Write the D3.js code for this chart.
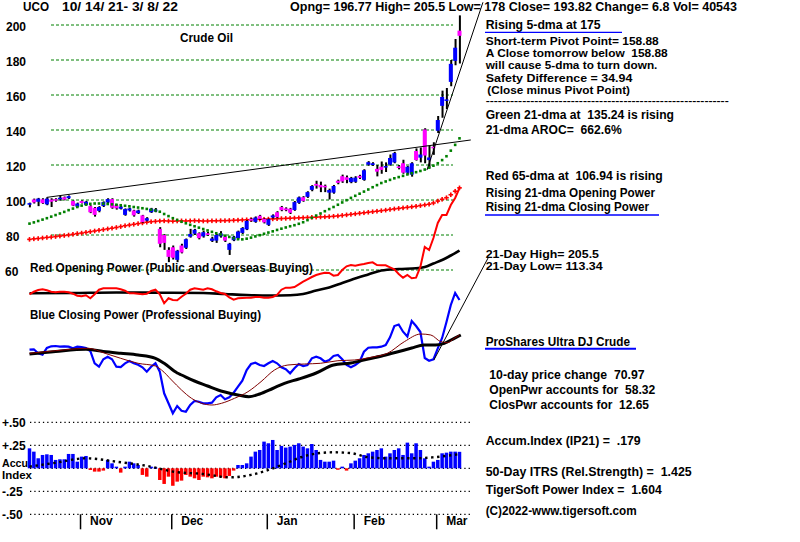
<!DOCTYPE html>
<html><head><meta charset="utf-8">
<script src="https://cdn.jsdelivr.net/npm/d3@7"></script>
<style>
body{margin:0;background:#fff;}
svg{display:block;background:#fff;}
text{font-family:"Liberation Sans",Arial,sans-serif;font-weight:bold;font-size:12px;fill:#000;white-space:pre;}
</style></head><body>
<svg id="c" width="800" height="542"></svg>
<script>
// ---------------- DATA ----------------
const monthLabels = ["Nov","Dec","Jan","Feb","Mar"];
const monthStartIdx = [12,33,55,75,94];
const priceTicks = [60,80,100,120,140,160,180,200];
const accTicks = [0.5,0.25,-0.25,-0.5];
const accTickLabels = ["+.50","+.25","-.25","-.50"];

const opens = [
 97.3,100.3,99,100.4,97.5,100.2,100.5,100.5,101.6,101,
 99.4,96.2,99.4,97.2,96.5,95.5,93.8,96.6,98.6,100.5,
 97,95,91.5,94,94,92.5,91.2,88.2,93,93.5,
 83.5,80,71.5,73,65.8,74,72.7,79,80.7,81,
 79.2,81,76.7,76.8,79.2,79,71.5,77,78.2,81.2,
 83.2,89.2,87.5,91,89.2,85.8,90,93,96,95.2,
 95,94.3,98.4,101.6,101.8,105.8,109.2,108.6,108.1,104.2,
 104.2,111,113.6,113,110.2,110.4,113.8,111.5,120.2,120,
 117.8,119,118.8,120.2,121.5,119.2,121,115.6,114.5,128,
 124.2,140.3,122.8,130.4,139.6,153.8,156.6,167.5,179.5,196.77];
const closes = [
 98.2,98.6,100.8,98.2,100.8,99,99.6,101.3,100.2,102.2,
 96.8,98,98.3,99,93,91.5,96,98.8,100.5,95.6,
 95.2,96.2,94.8,95.2,91.2,94,87.4,89.6,95,94.6,
 75,75.5,67.5,67,71,70,77.6,80.6,83,78.2,
 81.6,80,78,80,81,76.8,75,79,82,84,
 88,88.2,90,89.2,87.2,89,91.2,90.2,94.2,94.2,
 92.7,98.8,101.5,99.5,104.5,108,108.2,107.2,107.4,105.7,
 108,109.8,110.6,111.5,112.6,112.8,112.7,117,121.6,121,
 116.2,117.2,119.4,124,126.8,118.3,115.6,119,121,122.85,
 126,125.4,124.3,129.6,145.7,158.88,157.5,177.8,187.02,193.82];
const highs = [
 98.5,100.8,101.2,101,101.5,101,101,102.3,102,102.6,
 99.8,98.5,99.8,99.5,97,96,96.5,99.2,101,101,
 97.6,96.8,95.2,95.6,94.4,94.5,91.5,90.2,95.5,95.4,
 84.5,80.5,73,74,71.5,75,78,83.5,83.5,81.5,
 82.5,81.8,79,80.6,82.2,79.6,75.5,79.5,82.5,84.5,
 88.5,89.8,90.6,91.5,89.6,89.4,91.8,93.6,96.6,95.8,
 95.5,99.4,102,102.2,105,108.5,111,110.5,108.8,106.5,
 108.6,111.6,114.5,114,113.2,113.6,114.4,117.6,122.2,121.6,
 120,122,121.5,126,127.5,120,123,119.5,121.6,129.5,
 130,141,131,133,148,162.5,164,180,192,205.5];
const lows = [
 95.8,98,96.5,97.8,97,96,99,99.6,99.8,100.6,
 96.5,95.8,98,96.8,92.5,90.5,93,96,98,95,
 94.5,94.6,91,93.4,90.5,92,87,87.8,92.6,93,
 73,71.5,64.5,66,64.5,69.5,72,78.5,80,77.5,
 78.5,79.5,76,75.5,78.5,76,68.6,76.5,77.5,80.6,
 82.8,87.6,87,88.6,86.6,85.2,89.4,89.6,93.6,93.6,
 92,93.8,97.8,99,101.2,105,106.5,104.5,104.5,100.3,
 103.6,109,109.8,109.6,109.6,109.8,112,111,119.6,119.5,
 113.5,115,116,119.6,121,117.5,115,114.5,113.34,122.5,
 121.5,121,118,125.8,138.3,147,152,165,177,178];

const ma21 = [
 86.5,87.2,88,88.8,89.6,90.5,91.4,92.3,93.2,94.2,
 95.1,96,96.8,97.4,97.8,98,98,97.9,97.7,97.5,
 97.3,97,96.7,96.4,96,95.7,95.3,94.9,94.4,94,
 93.3,92,90.8,89.6,88.6,87.6,86.7,85.8,85,84.2,
 83.4,82.6,81.8,81,80.3,79.6,78.9,78.2,77.6,77.5,
 77.9,78.5,79.2,79.9,80.7,81.4,82.1,82.9,83.6,84.3,
 85,85.6,86.4,87.3,88.5,89.8,91.1,92.3,93.6,94.8,
 96,97.3,98.6,99.9,101.2,102.4,103.6,104.8,106,107.3,
 108.5,109.7,110.6,111.5,112.4,113.1,113.8,114.6,115.3,115.9,
 116.6,117.4,118.5,119.6,121,122.8,125,128.2,131.5,135.24];
const ma65 = [
 77.5,77.8,78,78.3,78.6,78.8,79.1,79.4,79.7,80,
 80.4,80.8,81.1,81.5,81.9,82.3,82.7,83.1,83.5,83.9,
 84.3,84.8,85.3,85.7,86.1,86.5,86.9,87.3,87.6,87.8,
 88,88.1,88,87.9,88,88.1,88,88.1,88.2,88.1,
 88,88,88.1,88.1,88.2,88.2,88.3,88.4,88.5,88.6,
 88.7,88.8,88.9,89,89,89.1,89.2,89.3,89.4,89.5,
 89.6,89.7,89.8,89.9,90,90.1,90.2,90.3,90.4,90.5,
 90.7,90.9,91.2,91.5,91.8,92.1,92.4,92.7,93,93.3,
 93.6,93.9,94.2,94.6,94.9,95.2,95.5,95.8,96.1,96.4,
 96.8,97.2,97.6,98.3,99.4,100.4,101.3,103,105,106.94];

const openingPower = [
 -1.3,1.3,3,3.7,2.7,1.3,0.7,1.3,1.3,0.7,
 -0.7,-2.7,-3.3,-2.3,-5.3,-1.3,3.3,4.7,4.7,4.7,
 4.7,3.7,2.3,-0.3,-0.3,-0.7,-1.3,-0.7,2,3.3,
 -1.3,-10.3,-5.3,-7,-7.3,-3.7,-0.7,3.3,4.7,4,
 3.3,4.7,3.7,1.7,0,-1,-4.3,-6.7,-5.3,-5,
 -4.7,-4.7,-4,-4,-4.7,-4.7,-4,-2,3.3,5.3,
 5.3,6,8.7,11.3,13.7,16,18,19.3,20.3,20,
 17.3,18,23,26.7,28,27.3,28.3,29,30,30.7,
 28,27.7,27.7,25.7,23.7,19,15.3,18,14.7,15.3,
 26.3,46,43,55,70,78,78,88,95,105];
const openingPowerMA = [[0,-0.3],[10,0],[20,0.5],[30,0.3],[40,0],[45,-1],[50,-2],[55,-2.5],[60,-2.2],[63,-1],[66,2.5],[69,5.5],[72,10],[74,13],[78,18.5],[81,22.5],[85,24],[89,24.7],[91,26],[93,29.5],[95,33],[97,37.5],[99,42.5]];

const closingPower = [
 50.3,50.7,46.7,45.3,52,53.7,54,53.3,53.7,53.3,
 51.7,53.3,53,52,49,36.7,33.3,40.7,43.3,40.7,
 33.3,33,36.7,39,36.7,35.3,32.7,28.3,33.3,36.7,
 28.3,6.7,-3.3,-13.3,-6,-10.7,-11.7,-5,-1,-1.7,
 -3.3,-3.3,-2.7,2.7,5,0.7,2.7,7.3,13.3,19.3,
 30,36,37.3,35,34,36.7,39,36.7,32.7,30.7,
 26.7,31.7,36,34,35,41.7,43.3,41.7,38.3,40,
 44,45,40.7,35,32.7,35,38.3,48.3,52.3,52.7,
 52.7,53.3,55,62.7,74,75.5,68.3,63.5,79,74,
 68,42,39.3,40.7,51.7,62,78,95,107,100];
const closingPowerMA21 = [[0,46.7],[6,49.3],[13.5,51.7],[17.4,46.7],[21,41.7],[25,36.7],[29,34],[30.4,30],[32.7,20],[35,10],[37.3,1.7],[39.6,-3.3],[42,-5],[44.2,-3.3],[47.2,1.7],[50.3,8.3],[53.3,18.3],[56.4,30],[59.5,35],[63.3,36],[67,36.7],[71,39.3],[74.8,40],[78.6,42.7],[82.4,46.7],[86.3,58.3],[90.1,66],[92.4,65],[94.7,58.3],[96.2,57.3],[97.8,61.7],[99,65]];
const closingPowerMA65 = [[0,46],[6,48.5],[13,50.7],[17,48.5],[21,46.7],[25,45],[29,41.7],[31,36.7],[34,27],[35,25],[38,19],[41,14],[43.4,10],[45,8],[48,5],[50.5,3.3],[53,6],[56,11.5],[58.7,16.7],[62,21],[66,27],[70,35],[74,37],[78,41],[82,45],[85.5,49],[88,52],[90.8,55],[93.5,55],[95.5,56.7],[97.8,61.7],[99.3,65]];

const accumIndex = [
 .217,.181,.109,.145,.152,.145,.091,.098,.098,.156,
 .156,.072,.127,.134,-.018,-.036,-.036,-.025,.091,.054,
 .018,-.047,.018,.072,.054,.036,-.072,-.091,.018,.011,
 -.127,-.17,-.091,-.19,-.145,-.134,-.072,-.091,-.109,-.127,
 -.091,-.098,-.109,-.091,-.098,-.109,-.083,-.025,.036,.036,
 .054,.127,.181,.199,.29,.272,.308,.199,.243,.225,
 .236,.254,.272,.236,.217,.264,.199,.091,.072,.072,
 .083,-.011,.018,-.025,.054,.083,.109,.145,.163,.181,
 .199,.217,.127,.163,.199,.217,.145,.279,.163,.272,
 .199,.109,.018,.072,.091,.163,.17,.181,.181,.179];
const accumMA = [[0,.018],[6,.06],[13,.109],[20,.072],[28,.018],[33,-.036],[40,-.062],[46,-.098],[51,-.072],[55,-.018],[59,.054],[62.5,.12],[66.4,.163],[70,.174],[74,.165],[78,.12],[82,.109],[89,.109],[93,.12],[99.3,.156]];

const priceTrendLines = [[[3.96,101.5],[101.6,134.3]], [[91.5,117.1],[104.4,213]]];
const cpTrendLines = [[[93.1,40],[105.7,143]]];

// ---------------- LAYOUT ----------------
const svg = d3.select("#c");
const x = d3.scaleLinear().domain([0,99]).range([29.5,459.5]);
const yP = d3.scaleLinear().domain([60,200]).range([270,25]);
const yOP = d3.scaleLinear().domain([0,100]).range([293,193]);
const yCP = d3.scaleLinear().domain([0,100]).range([400,300]);
const yA = d3.scaleLinear().domain([-0.5,0.5]).range([514.3,422.3]);
const idx = d3.range(closes.length);

// price grid
svg.append("g").selectAll("line").data(priceTicks).join("line")
  .attr("x1",51).attr("x2",453).attr("y1",d=>yP(d)).attr("y2",d=>yP(d))
  .attr("stroke","#008000").attr("stroke-width",1).attr("stroke-dasharray","3,2");

// price axis labels
const pAx = svg.append("g").attr("transform","translate(6,0)")
  .call(d3.axisLeft(yP).tickValues(priceTicks).tickSize(0).tickPadding(0));
pAx.select(".domain").remove();
pAx.selectAll("text").attr("text-anchor","start").attr("x",d=>d===60?-1:0).attr("dy","0.42em");

// accumulation grid
svg.append("g").selectAll("line").data([0.5,0.25,0,-0.25,-0.5]).join("line")
  .attr("x1",30).attr("x2",472).attr("y1",d=>yA(d)).attr("y2",d=>yA(d))
  .attr("stroke","#000").attr("stroke-width",1.2).attr("stroke-dasharray","1.3,3");
const aAx = svg.append("g").attr("transform","translate(2,0)")
  .call(d3.axisLeft(yA).tickValues(accTicks).tickSize(0).tickPadding(0)
  .tickFormat((d,i)=>accTickLabels[i]));
aAx.select(".domain").remove();
aAx.selectAll("text").attr("text-anchor","start").attr("x",0).attr("dy","0.38em");

// month axis
const mAx = svg.append("g").attr("transform","translate(-1.6,514.3)")
  .call(d3.axisBottom(x).tickValues(monthStartIdx).tickSize(15).tickPadding(0)
  .tickFormat((d,i)=>monthLabels[i]));
mAx.select(".domain").remove();
mAx.selectAll(".tick line").attr("stroke","#000").attr("stroke-width",1.5);
mAx.selectAll("text").attr("text-anchor","start").attr("x",9.5).attr("y",2).attr("dy","0.71em");

// texts (s = font size)
const texts = [
 {t:"UCO",x:23,y:10.7,w:26,s:12},
 {t:"10/ 14/ 21- 3/ 8/ 22",x:62,y:10.7,w:116,s:12},
 {t:"Opng= 196.77 High= 205.5 Low= 178 Close= 193.82 Change= 6.8 Vol= 40543",x:290,y:10.7,w:447,s:12},
 {t:"Crude Oil",x:180,y:42.3,w:53,s:12},
 {t:"Red Opening Power (Public and Overseas Buying)",x:30,y:272,w:283,s:12},
 {t:"Blue Closing Power (Professional Buying)",x:30,y:318.5,w:231,s:12},
 {t:"Accu",x:2,y:466.7,w:26,s:11},
 {t:"Index",x:2,y:479,w:30,s:11},
 {t:"Rising 5-dma at 175",x:485.7,y:29.3,w:115,s:12},
 {t:"Short-term Pivot Point= 158.88",x:485.7,y:45,w:173,s:10.5},
 {t:"A Close tomorrow below  158.88",x:485.7,y:57.3,w:182,s:10.5},
 {t:"will cause 5-dma to turn down.",x:485.7,y:69,w:171.7,s:10.5},
 {t:"Safety Difference = 34.94",x:485.7,y:82.3,w:146.7,s:10.5},
 {t:"(Close minus Pivot Point)",x:487.3,y:93.5,w:142.7,s:10},
 {t:"-".repeat(60),x:485.7,y:103.6,w:243,s:9},
 {t:"Green 21-dma at  135.24 is rising",x:485.7,y:119.3,w:188.3,s:12},
 {t:"21-dma AROC=  662.6%",x:485.7,y:134,w:136,s:12},
 {t:"Red 65-dma at  106.94 is rising",x:485.7,y:180,w:177,s:12},
 {t:"Rising 21-dma Opening Power",x:485.7,y:196.7,w:169.3,s:12},
 {t:"Rising 21-dma Closing Power",x:485.7,y:211,w:163.3,s:12},
 {t:"21-Day High= 205.5",x:485.7,y:257.7,w:113.3,s:11},
 {t:"21-Day Low= 113.34",x:485.7,y:270.3,w:117,s:11},
 {t:"ProShares Ultra DJ Crude",x:485.7,y:346,w:144.3,s:12},
 {t:"10-day price change  70.97",x:489.3,y:379.3,w:155.3,s:12},
 {t:"OpenPwr accounts for  58.32",x:489.3,y:393.5,w:166,s:12},
 {t:"ClosPwr accounts for  12.65",x:489.3,y:409,w:159.7,s:12},
 {t:"Accum.Index (IP21) =  .179",x:485.7,y:444.5,w:155,s:12},
 {t:"50-Day ITRS (Rel.Strength) =  1.425",x:485.7,y:476,w:206,s:12},
 {t:"TigerSoft Power Index =  1.604",x:485.7,y:494,w:176,s:12},
 {t:"(C)2022-www.tigersoft.com",x:485.7,y:515,w:151,s:12}
];
svg.append("g").selectAll("text").data(texts).join("text")
  .attr("x",d=>d.x).attr("y",d=>d.y).attr("textLength",d=>d.w)
  .style("font-size",d=>d.s+"px")
  .attr("lengthAdjust","spacingAndGlyphs").text(d=>d.t);

// underlines
const underlines = [{x1:485,x2:622,y:32.3,w:1.3},{x1:485,x2:659,y:215,w:1.3},{x1:485,x2:636,y:348.7,w:2}];
svg.append("g").selectAll("line").data(underlines).join("line")
  .attr("x1",d=>d.x1).attr("x2",d=>d.x2).attr("y1",d=>d.y).attr("y2",d=>d.y)
  .attr("stroke","#0000ff").attr("stroke-width",d=>d.w);

// 65-dma red pluses
const plus = svg.append("g").attr("fill","#ff0000");
plus.selectAll("rect.h").data(idx).join("rect").attr("class","h")
  .attr("x",i=>x(i)-2.3).attr("y",i=>yP(ma65[i])-0.8).attr("width",4.6).attr("height",1.6);
plus.selectAll("rect.v").data(idx).join("rect").attr("class","v")
  .attr("x",i=>x(i)-0.8).attr("y",i=>yP(ma65[i])-2.3).attr("width",1.6).attr("height",4.6);

// candles
const cg = svg.append("g");
cg.selectAll("rect.wick").data(idx).join("rect").attr("class","wick")
  .attr("x",i=>x(i)-0.6).attr("width",2)
  .attr("y",i=>yP(highs[i])).attr("height",i=>Math.max(1,yP(lows[i])-yP(highs[i])))
  .attr("fill","#000");
cg.selectAll("rect.body").data(idx).join("rect").attr("class","body")
  .attr("x",i=>x(i)-2).attr("width",4)
  .attr("y",i=>yP(Math.max(opens[i],closes[i])))
  .attr("height",i=>Math.max(1.5,Math.abs(yP(opens[i])-yP(closes[i]))))
  .attr("fill",i=>closes[i]>=opens[i]?"#0000ff":"#ff00ff");

// 21-dma green dots
svg.append("g").selectAll("rect").data(idx).join("rect")
  .attr("x",i=>x(i)-1.3).attr("y",i=>yP(ma21[i])-1.3).attr("width",2.6).attr("height",2.6)
  .attr("fill","#008000");

// trend lines
const tl = d3.line().x(d=>x(d[0])).y(d=>yP(d[1]));
svg.append("g").selectAll("path").data(priceTrendLines).join("path")
  .attr("d",tl).attr("stroke","#000").attr("stroke-width",1).attr("fill","none");

// opening power
const opLine = d3.line().x((d,i)=>x(i)).y(d=>yOP(d));
const opMALine = d3.line().x(d=>x(d[0])).y(d=>yOP(d[1])).curve(d3.curveMonotoneX);
svg.append("path").datum(openingPowerMA).attr("d",opMALine).attr("fill","none")
  .attr("stroke","#000").attr("stroke-width",2.6);
svg.append("path").datum(openingPower).attr("d",opLine).attr("fill","none")
  .attr("stroke","#ff0000").attr("stroke-width",2);

// closing power
const cpLine = d3.line().x((d,i)=>x(i)).y(d=>yCP(d));
const cpMALine = d3.line().x(d=>x(d[0])).y(d=>yCP(d[1])).curve(d3.curveMonotoneX);
svg.append("path").datum(closingPower).attr("d",cpLine).attr("fill","none")
  .attr("stroke","#0000ff").attr("stroke-width",2.2);
svg.append("path").datum(closingPowerMA65).attr("d",cpMALine).attr("fill","none")
  .attr("stroke","#000").attr("stroke-width",3);
svg.append("path").datum(closingPowerMA21).attr("d",cpMALine).attr("fill","none")
  .attr("stroke","#800000").attr("stroke-width",1);
const cptl = d3.line().x(d=>x(d[0])).y(d=>yCP(d[1]));
svg.append("g").selectAll("path").data(cpTrendLines).join("path")
  .attr("d",cptl).attr("stroke","#000").attr("stroke-width",1).attr("fill","none");

// accumulation bars
svg.append("g").selectAll("rect").data(idx).join("rect")
  .attr("x",i=>x(i)-1.75).attr("width",3.5)
  .attr("y",i=>Math.min(yA(accumIndex[i]),yA(0)))
  .attr("height",i=>Math.max(1.5,Math.abs(yA(accumIndex[i])-yA(0))))
  .attr("fill",i=>accumIndex[i]>=0?"#0000ff":"#ff0000");
const amLine = d3.line().x(d=>x(d[0])).y(d=>yA(d[1])).curve(d3.curveMonotoneX);
svg.append("path").datum(accumMA).attr("d",amLine).attr("fill","none")
  .attr("stroke","#000").attr("stroke-width",2.4).attr("stroke-dasharray","2.4,3.6");
</script>
</body></html>
